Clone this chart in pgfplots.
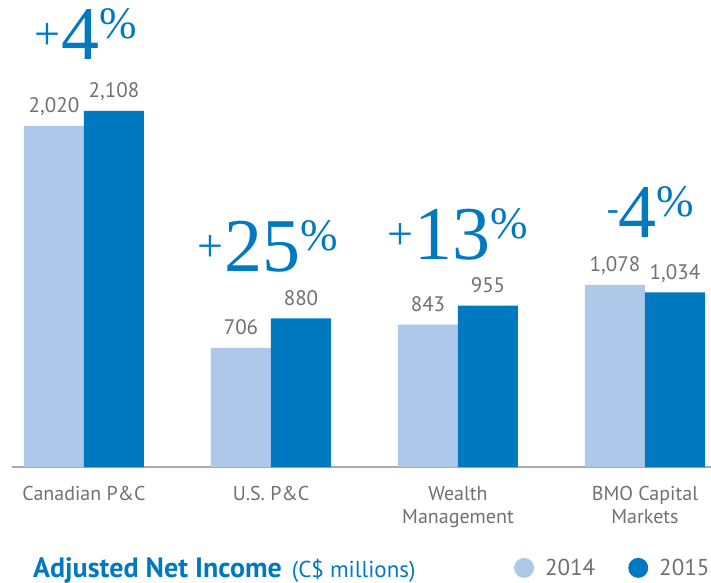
\documentclass[border=0pt]{standalone}
\usepackage{fontspec}
\setmainfont{PT Sans}
\newfontfamily\serif{Liberation Serif}
\usepackage{pgfplots}
\pgfplotsset{compat=1.18}
\definecolor{light}{HTML}{AEC8E9}
\definecolor{dark}{HTML}{0079C1}
\definecolor{txt}{HTML}{707070}
\definecolor{axisgrey}{HTML}{A7A9AC}
\newcommand{\pctnum}[1]{\fontsize{76}{76}\selectfont #1\raisebox{21pt}{\fontsize{45}{45}\selectfont\%}}
\newcommand{\pctplus}[1]{{\serif\color{dark}\raisebox{10pt}{\fontsize{46}{46}\selectfont +}\hspace{1pt}\pctnum{#1}}}
\newcommand{\pctminus}[1]{{\serif\color{dark}\raisebox{17pt}{\fontsize{36}{36}\selectfont -}\pctnum{#1}}}
\begin{document}
\begin{tikzpicture}
\useasboundingbox (0,0) rectangle (711pt,582pt);
\begin{axis}[at={(12pt,115pt)}, anchor=south west, scale only axis,
  width=699pt, height=467pt,
  xmin=-0.385, xmax=3.353, ymin=0, ymax=2765,
  ybar=0pt, bar width=60pt,
  axis x line=bottom, axis y line=none,
  x axis line style={draw=axisgrey, line width=2pt, -},
  xtick={0,1,2,3},
  xticklabels={Canadian P\&C, U.S. P\&C, Wealth\\Management, BMO Capital\\Markets},
  xticklabel style={align=center, text=txt, font=\fontsize{20}{23}\selectfont, anchor=north, inner sep=0pt, yshift=-19pt},
  major tick length=0pt, ytick=\empty,
  /pgf/number format/assume math mode=true,
  /pgf/number format/1000 sep={,},
  nodes near coords,
  nodes near coords style={text=txt, font=\fontsize{21}{21}\selectfont, anchor=base, yshift=13pt, inner sep=0pt},
  clip=false,
  legend columns=2,
  legend style={at={(0.718,-0.216)}, anchor=west, draw=none, fill=none,
    font=\fontsize{23}{23}\selectfont, text=txt, inner sep=0pt,
    column sep=0pt,
    /tikz/every odd column/.append style={column sep=11pt},
    /tikz/every even column/.append style={column sep=33pt},
    nodes={inner sep=0pt}},
  legend image code/.code={\fill[#1,draw=none] (10pt,0pt) circle (10pt);},
]
\addplot[fill=light, draw=none] coordinates {(0,2020) (1,706) (2,843) (3,1078)};
\addplot[fill=dark, draw=none] coordinates {(0,2108) (1,880) (2,955) (3,1034)};
\legend{2014,2015}
\node[anchor=base] at (axis cs:0.01,2410) {\pctplus{4}};
\node[anchor=base] at (axis cs:0.984,1155) {\pctplus{25}};
\node[anchor=base] at (axis cs:2,1226) {\pctplus{13}};
\node[anchor=base] at (axis cs:3.03,1356) {\pctminus{4}};
\end{axis}
\node[anchor=base west, inner sep=0pt, text=dark] at (33pt,5pt) {{\fontsize{28}{28}\selectfont\bfseries Adjusted Net Income}\hspace{10pt}{\fontsize{23}{23}\selectfont (C\$ millions)}};
\end{tikzpicture}
\end{document}
